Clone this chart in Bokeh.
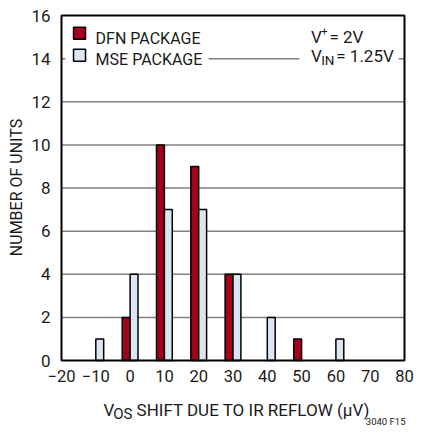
from bokeh.plotting import figure
from bokeh.models import Range1d
from bokeh.core.properties import value
from bokeh.embed import file_html
from bokeh.resources import INLINE
import math

# ---- data ----
dfn_x = [0, 10, 20, 30, 50]
dfn_n = [2, 10, 9, 4, 1]
mse_x = [-10, 0, 10, 20, 30, 40, 60]
mse_n = [1, 4, 7, 7, 4, 2, 1]
x_ticks = [-20, -10, 0, 10, 20, 30, 40, 50, 60, 70, 80]
y_ticks = [0, 2, 4, 6, 8, 10, 12, 14, 16]
x_tick_labels = ["\u221220", "\u221210", "0", "10", "20", "30", "40", "50", "60", "70", "80"]
y_tick_labels = [str(v) for v in y_ticks]

FONT = value("Roboto")
TXT = "#1a1a1a"
RED = "#A5001E"
BLUE = "#DCE6F2"
BW = 2.3

xmin, xmax = x_ticks[0], x_ticks[-1]
ymin, ymax = y_ticks[0], y_ticks[-1]

# ---- canvas layout (fits inside the 8px page margin) ----
W, H = 414, 426
L, R, T, B = 61, 404, 15, 360
kx = (R - L) / (xmax - xmin)
ky = (B - T) / (ymax - ymin)

p = figure(width=W, height=H,
           x_range=Range1d(xmin - L / kx, xmax + (W - R) / kx),
           y_range=Range1d(ymin - (H - B) / ky, ymax + T / ky),
           output_backend="svg", toolbar_location=None,
           x_axis_location=None, y_axis_location=None,
           min_border=0)
p.min_border_left = p.min_border_right = p.min_border_top = p.min_border_bottom = 0
p.outline_line_color = None
p.grid.visible = False
p.background_fill_color = "white"
p.border_fill_color = "white"

# annotation placement helpers: reference-picture pixels -> data units
RL, RR, RT, RB = 62, 414, 15, 366
def dx(px):
    return xmin + (px - RL) * (xmax - xmin) / (RR - RL)

def dy(py):
    return ymin + (RB - py) * (ymax - ymin) / (RB - RT)

# gridlines
gy = y_ticks[1:-1]
p.segment(x0=[xmin] * len(gy), x1=[xmax] * len(gy), y0=gy, y1=gy,
          line_color="#808080", line_width=1.5)

# white covers for the legend row crossing the gridline at 14
p.quad(left=[dx(66), dx(306)], right=[dx(213), dx(408)],
       bottom=[dy(65), dy(65)], top=[dy(45), dy(45)],
       fill_color="white", line_color=None)

# bars
p.vbar(x=[v - BW / 2 for v in dfn_x], top=dfn_n, width=BW, bottom=0,
       fill_color=RED, line_color="black", line_width=1.5)
p.vbar(x=[v + BW / 2 for v in mse_x], top=mse_n, width=BW, bottom=0,
       fill_color=BLUE, line_color="black", line_width=1.5)

# plot frame
p.quad(left=[xmin], right=[xmax], bottom=[ymin], top=[ymax],
       fill_color=None, line_color="black", line_width=2)

# tick labels
p.text(x=[xmin] * len(y_ticks), y=y_ticks, text=y_tick_labels, x_offset=-11,
       text_align="right", text_baseline="middle", text_font=FONT,
       text_font_size="17px", text_color=TXT)
p.text(x=x_ticks, y=[ymin] * len(x_ticks), text=x_tick_labels, y_offset=9,
       text_align="center", text_baseline="top", text_font=FONT,
       text_font_size="16.5px", text_color=TXT)

# legend squares
p.scatter(x=[dx(80.5)], y=[dy(33)], marker="square", size=12,
          fill_color=RED, line_color="black", line_width=1.5)
p.scatter(x=[dx(80.5)], y=[dy(55.5)], marker="square", size=12,
          fill_color=BLUE, line_color="black", line_width=1.5)

def lab(text, px, py, size, align="left", baseline="alphabetic", angle=0.0):
    p.text(x=[dx(px)], y=[dy(py)], text=[text], text_font=FONT,
           text_font_size=f"{size}px", text_color=TXT,
           text_align=align, text_baseline=baseline, angle=angle)

lab("DFN PACKAGE", 97, 38, 16)
lab("MSE PACKAGE", 97, 60, 16)
lab("V", 318, 37, 17)
lab("+", 328.5, 31, 11)
lab("= 2V", 337, 37, 17)
lab("V", 318, 56, 17)
lab("IN", 328.5, 60, 13.5)
lab("= 1.25V", 344, 56, 17)

# axis titles
lab("V", 105, 416, 17)
lab("OS", 115, 420, 15)
lab("SHIFT DUE TO IR REFLOW (\u03bcV)", 139, 416, 17)
lab("NUMBER OF UNITS", 16, 190, 16, align="center", baseline="middle", angle=math.pi / 2)
lab("3040 F15", 415, 428.5, 9.5, align="right")

open("out.html", "w").write(file_html(p, INLINE))
